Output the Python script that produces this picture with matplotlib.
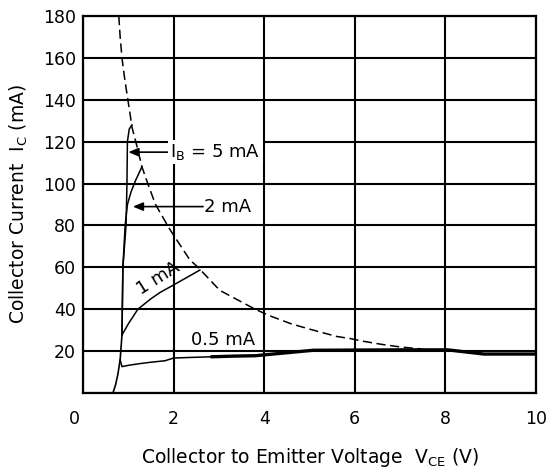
import numpy as np
import matplotlib.pyplot as plt
import matplotlib.transforms as mtransforms

plt.rcParams['font.family'] = ['DejaVu Sans']
plt.rcParams['mathtext.fontset'] = 'dejavusans'

# --- data ---
# common steep rise shared by all base-current curves
vce_rise = [0.66, 0.72, 0.77, 0.82, 0.86]
ic_rise = [0, 4, 9, 16, 27.7]

# IB = 0.5 mA (gaps where the scan lost the trace)
vce_05 = [0.82, 0.86, 1.0, 1.21, 1.5, 1.81, 2.0, 2.4, 2.85, 3.3, 3.8, np.nan,
          5.08, 6.0, 7.0, 8.05, np.nan, 8.85, 9.5, 10.0]
ic_05 = [15.8, 12.6, 13.2, 13.9, 14.7, 15.4, 16.7, 17.0, 17.3, 17.6, 17.8, np.nan,
         20.4, 20.5, 20.6, 20.6, np.nan, 18.6, 18.6, 18.6]

# IB = 1 mA
vce_1 = [0.86, 1.0, 1.21, 1.5, 1.7, 2.0, 2.36, 2.58]
ic_1 = [27.7, 33, 40, 45, 48, 51.6, 56, 58.7]

# IB = 2 mA
vce_2 = [0.86, 0.88, 0.93, 0.98, 1.06, 1.15, 1.3]
ic_2 = [27.7, 60, 80, 90, 96, 101, 108]

# IB = 5 mA
vce_5 = [0.86, 0.88, 0.95, 0.97, 0.98, 1.02, 1.08]
ic_5 = [27.7, 60, 80, 100, 120, 126, 128]

# power dissipation limit (dashed)
vce_p = [0.79, 0.82, 0.86, 0.92, 0.99, 1.04, 1.08, 1.2, 1.3, 1.43, 1.6, 1.92,
         2.36, 2.54, 3.02, 3.8, 4.13, 4.6, 5.0, 5.6, 5.9, 6.16, 6.6, 7.0, 7.48]
ic_p = [180, 170, 160, 150, 140, 133, 127, 117, 108, 100, 90, 78,
        63.5, 60, 49, 40, 36.8, 33, 30.5, 27, 26, 24.8, 23.2, 22, 21]

fig = plt.figure(figsize=(5.48, 4.71), dpi=100)
ax = fig.add_axes([0.1515, 0.1656, 0.8266, 0.8004])

ax.plot(vce_rise, ic_rise, color='black', lw=1.2)
ax.plot(vce_05, ic_05, color='black', lw=1.1)
v05 = np.array(vce_05)
i05 = np.array(ic_05)
thick = v05 >= 2.85
ax.plot(v05[thick], i05[thick], color='black', lw=2.4)
ax.plot(vce_1, ic_1, color='black', lw=1.1)
ax.plot(vce_2, ic_2, color='black', lw=1.1)
ax.plot(vce_5, ic_5, color='black', lw=1.1)
ax.plot(vce_p, ic_p, color='black', lw=1.1, linestyle=(0, (6, 3)))

# labels with arrows
arrow = dict(arrowstyle='-|>,head_length=0.6,head_width=0.25', color='black', lw=1.2,
             shrinkA=0, shrinkB=0)
box = dict(facecolor='white', edgecolor='none', pad=1.5)
ax.annotate('', xy=(1.0, 115), xytext=(1.93, 115), arrowprops=arrow)
ax.text(1.93, 115, r'I$_\mathrm{B}$ = 5 mA', fontsize=13, va='center', ha='left', bbox=box)
ax.annotate('', xy=(1.1, 89), xytext=(2.65, 89), arrowprops=arrow)
ax.text(2.67, 89, '2 mA', fontsize=13, va='center', ha='left')
ax.text(1.66, 55, '1 mA', fontsize=13, va='center', ha='center', rotation=32)
ax.text(3.1, 25.3, '0.5 mA', fontsize=13, va='center', ha='center')

ax.set_xlim(0, 10)
ax.set_ylim(0, 180)
ax.set_xticks(np.arange(0, 11, 2))
ax.set_yticks(np.arange(0, 181, 20))
ax.set_yticklabels(['' if v == 0 else str(v) for v in range(0, 181, 20)])
ax.tick_params(length=0, labelsize=12.5)
ax.tick_params(axis='x', pad=12)
ax.tick_params(axis='y', pad=5)
ax.grid(True, color='black', lw=1.5)
ax.set_axisbelow(True)
for s in ax.spines.values():
    s.set_linewidth(1.6)

# the "0" sits a little left of the axis corner in the original
first = ax.get_xticklabels()[0]
first.set_transform(first.get_transform()
                    + mtransforms.ScaledTranslation(-0.09, 0, fig.dpi_scale_trans))

ax.set_xlabel(r'Collector to Emitter Voltage  V$_\mathrm{CE}$ (V)', fontsize=13.5, labelpad=13)
ax.set_ylabel(r'Collector Current  I$_\mathrm{C}$ (mA)', fontsize=13.5, labelpad=9)

fig.savefig('out.png', dpi=100)
